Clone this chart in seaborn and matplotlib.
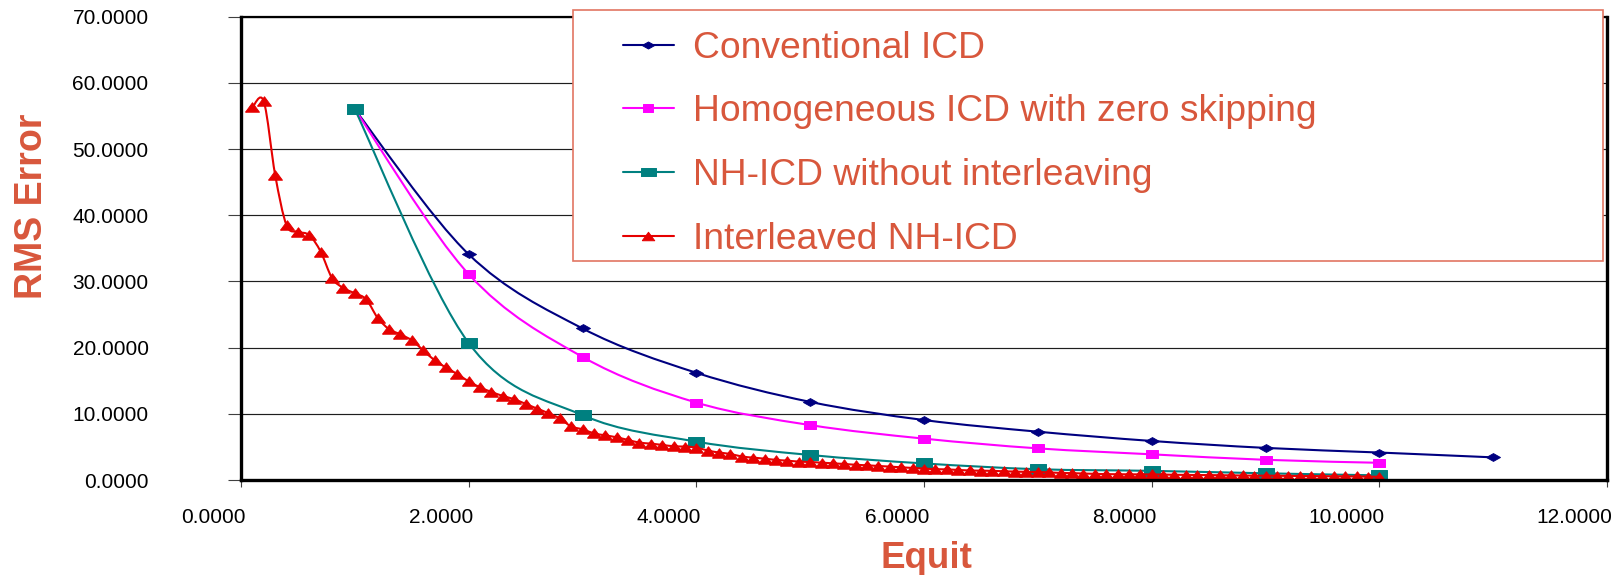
import matplotlib
matplotlib.use("Agg")
import matplotlib.pyplot as plt
from matplotlib.path import Path
from matplotlib.patches import PathPatch, Rectangle
from matplotlib.lines import Line2D
from matplotlib.ticker import FormatStrFormatter
from matplotlib.transforms import ScaledTranslation
import numpy as np
import seaborn as sns

# ---- data -------------------------------------------------------------
equit_coarse = [1, 2, 3, 4, 5, 6, 7, 8, 9, 10, 11]
conventional_icd = [56.0, 34.1, 22.9, 16.2, 11.8, 9.06, 7.3, 5.9, 4.85, 4.15, 3.42]
homogeneous_icd = [56.0, 31.1, 18.6, 11.7, 8.3, 6.25, 4.78, 3.88, 3.05, 2.6]
nh_icd_plain = [56.0, 20.7, 9.8, 5.8, 3.78, 2.5, 1.63, 1.38, 1.01, 0.7]

equit_fine = [
    0.1, 0.2, 0.3, 0.4, 0.5, 0.6, 0.7, 0.8, 0.9, 1.0,
    1.1, 1.2, 1.3, 1.4, 1.5, 1.6, 1.7, 1.8, 1.9, 2.0,
    2.1, 2.2, 2.3, 2.4, 2.5, 2.6, 2.7, 2.8, 2.9, 3.0,
    3.1, 3.2, 3.3, 3.4, 3.5, 3.6, 3.7, 3.8, 3.9, 4.0,
    4.1, 4.2, 4.3, 4.4, 4.5, 4.6, 4.7, 4.8, 4.9, 5.0,
    5.1, 5.2, 5.3, 5.4, 5.5, 5.6, 5.7, 5.8, 5.9, 6.0,
    6.1, 6.2, 6.3, 6.4, 6.5, 6.6, 6.7, 6.8, 6.9, 7.0,
    7.1, 7.2, 7.3, 7.4, 7.5, 7.6, 7.7, 7.8, 7.9, 8.0,
    8.1, 8.2, 8.3, 8.4, 8.5, 8.6, 8.7, 8.8, 8.9, 9.0,
    9.1, 9.2, 9.3, 9.4, 9.5, 9.6, 9.7, 9.8, 9.9, 10.0,
]
interleaved_nh_icd = [
    56.3, 57.2, 46.1, 38.5, 37.5, 37.0, 34.5, 30.5, 29.0, 28.2,
    27.3, 24.5, 22.8, 22.0, 21.1, 19.6, 18.1, 17.0, 16.0, 14.9,
    14.0, 13.3, 12.7, 12.2, 11.5, 10.8, 10.1, 9.3, 8.1, 7.65,
    7.05, 6.75, 6.45, 6.05, 5.65, 5.5, 5.3, 5.1, 5.05, 4.9,
    4.45, 4.15, 3.93, 3.55, 3.38, 3.22, 3.04, 2.92, 2.78, 2.72,
    2.62, 2.52, 2.42, 2.3, 2.22, 2.12, 2.02, 1.92, 1.82, 1.72,
    1.64, 1.6, 1.52, 1.44, 1.41, 1.38, 1.32, 1.27, 1.23, 1.2,
    1.15, 1.07, 1.04, 0.98, 0.93, 0.89, 0.87, 0.86, 0.85, 0.84,
    0.82, 0.79, 0.77, 0.75, 0.74, 0.72, 0.70, 0.68, 0.66, 0.65,
    0.64, 0.62, 0.61, 0.6, 0.58, 0.56, 0.55, 0.53, 0.51, 0.48,
]

series_names = [
    "Conventional ICD",
    "Homogeneous ICD with zero skipping",
    "NH-ICD without interleaving",
    "Interleaved NH-ICD",
]
x_ticks = [0, 2, 4, 6, 8, 10, 12]
y_ticks = [0, 10, 20, 30, 40, 50, 60, 70]

# ---- style ------------------------------------------------------------
sns.set_theme(style="white")
plt.rcParams["font.family"] = ["Liberation Sans", "DejaVu Sans"]

ACCENT = "#D8573C"
FRAME = "#E27562"

# wide, flat marker shapes
DIAMOND = [(-1, 0), (0, 0.56), (1, 0), (0, -0.56), (-1, 0)]
SQUARE_M = [(-1, -0.7), (1, -0.7), (1, 0.7), (-1, 0.7), (-1, -0.7)]
SQUARE_T = [(-1, -0.56), (1, -0.56), (1, 0.56), (-1, 0.56), (-1, -0.56)]
TRIANGLE = [(-1, -0.68), (1, -0.68), (0, 0.68), (-1, -0.68)]

styles = [
    dict(color="#000080", marker=DIAMOND, ms=10.0),
    dict(color="#FF00FF", marker=SQUARE_M, ms=8.6),
    dict(color="#008080", marker=SQUARE_T, ms=12.0),
    dict(color="#E60000", marker=TRIANGLE, ms=10.0),
]
series = [
    (equit_coarse, conventional_icd),
    (equit_coarse[:10], homogeneous_icd),
    (equit_coarse[:10], nh_icd_plain),
    (equit_fine, interleaved_nh_icd),
]


def smooth_path(xs, ys):
    """Bezier path through the points (Catmull-Rom style smoothing)."""
    pts = np.column_stack([xs, ys]).astype(float)
    ext = np.vstack([pts[0], pts, pts[-1]])
    verts = [pts[0]]
    codes = [Path.MOVETO]
    for i in range(len(pts) - 1):
        p0, p1, p2, p3 = ext[i], ext[i + 1], ext[i + 2], ext[i + 3]
        verts += [p1 + (p2 - p0) / 6.0, p2 - (p3 - p1) / 6.0, p2]
        codes += [Path.CURVE4] * 3
    return Path(verts, codes)


W, H = 1616, 575
fig = plt.figure(figsize=(W / 100, H / 100), dpi=100)
ax_left, ax_right, ax_top, ax_bottom = 241, 1607, 16.7, 480
ax = fig.add_axes([ax_left / W, 1 - ax_bottom / H,
                   (ax_right - ax_left) / W, (ax_bottom - ax_top) / H])

for k, ((xs, ys), st) in enumerate(zip(series, styles)):
    z = 3 + k
    ax.add_patch(PathPatch(smooth_path(xs, ys), facecolor="none",
                           edgecolor=st["color"], lw=1.5, zorder=z))
    sns.lineplot(x=xs, y=ys, ax=ax, linestyle="None", marker=st["marker"],
                 markersize=st["ms"], color=st["color"],
                 markeredgecolor=st["color"], markeredgewidth=0.7,
                 zorder=z + 0.5)

ax.set_xlim(0, 12)
ax.set_ylim(0, 70)
ax.set_xticks(x_ticks)
ax.set_yticks(y_ticks)
ax.xaxis.set_major_formatter(FormatStrFormatter("%.4f"))
ax.yaxis.set_major_formatter(FormatStrFormatter("%.4f"))

ax.yaxis.grid(True, color="#1e1e1e", lw=0.85)
ax.xaxis.grid(False)
ax.set_axisbelow(True)

for name, spine in ax.spines.items():
    spine.set_visible(True)
    spine.set_color("black")
    spine.set_linewidth(2.4 if name != "top" else 1.6)
    spine.set_zorder(10)

ax.tick_params(axis="y", left=True, direction="out", length=9.6, width=0.8,
               color="#404040", pad=57, labelsize=15, labelcolor="black")
ax.tick_params(axis="x", bottom=True, direction="out", length=5, width=0.8,
               color="#404040", pad=15, labelsize=15, labelcolor="black")
shift = ScaledTranslation(5 / 100, 0, fig.dpi_scale_trans)
for lbl in ax.get_xticklabels():
    lbl.set_ha("right")
    lbl.set_transform(lbl.get_transform() + shift)

ax.set_xlabel("Equit", fontsize=26.5, fontweight="bold", color=ACCENT)
ax.xaxis.set_label_coords((926.7 - ax_left) / (ax_right - ax_left),
                          (ax_bottom - 541.0) / (ax_bottom - ax_top))
ax.set_ylabel("RMS Error", fontsize=27, fontweight="bold", color=ACCENT)
ax.yaxis.set_label_coords((50.5 - ax_left) / (ax_right - ax_left),
                          (ax_bottom - 206.7) / (ax_bottom - ax_top))

# legend frame and entries
fig.add_artist(Rectangle((573 / W, 1 - 261 / H), (1603 - 573) / W,
                         (261 - 10.3) / H, transform=fig.transFigure,
                         facecolor="white", edgecolor=FRAME, lw=1.2,
                         zorder=1))
handles = [Line2D([], [], color=st["color"], lw=1.5, marker=st["marker"],
                  markersize=st["ms"] * 0.9, markeredgecolor=st["color"],
                  markeredgewidth=0.7)
           for st in styles]
leg = fig.legend(handles, series_names, loc="upper left",
                 bbox_to_anchor=(623 / W, 1 - 30.8 / H),
                 bbox_transform=fig.transFigure, frameon=False,
                 borderpad=0, borderaxespad=0, fontsize=26.8,
                 handlelength=1.37, handletextpad=0.5, labelspacing=0.77)
leg.set_zorder(6)
for t in leg.get_texts():
    t.set_color(ACCENT)

fig.savefig("out.png", dpi=100)
